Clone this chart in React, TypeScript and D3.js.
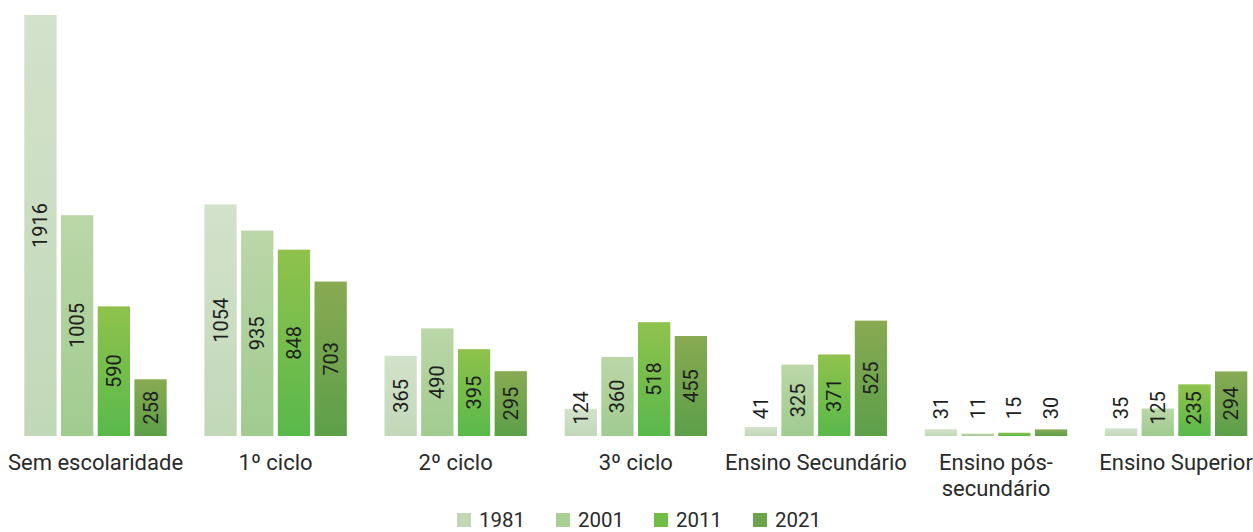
import React from "react";
import * as d3 from "d3";

const categories: string[][] = [
  ["Sem escolaridade"],
  ["1º ciclo"],
  ["2º ciclo"],
  ["3º ciclo"],
  ["Ensino Secundário"],
  ["Ensino pós-", "secundário"],
  ["Ensino Superior"],
];
const years = ["1981", "2001", "2011", "2021"];
const values1981 = [1916, 1054, 365, 124, 41, 31, 35];
const values2001 = [1005, 935, 490, 360, 325, 11, 125];
const values2011 = [590, 848, 395, 518, 371, 15, 235];
const values2021 = [258, 703, 295, 455, 525, 30, 294];
const series = [values1981, values2001, values2011, values2021];

const gradTop = ["#d3e2cb", "#bbd7a8", "#8fc24c", "#88aa52"];
const gradBottom = ["#c1d8b8", "#a0cb8f", "#59b94b", "#5c9f49"];
const legendColors = ["#c0d6b4", "#a8d095", "#6fbd48", "#6aa54e"];

const W = 1253;
const H = 532;
const FONT = "Roboto, 'Noto Sans', sans-serif";

export default function App() {
  const keys = categories.map((c) => c.join(" "));
  const x0 = d3.scaleBand<string>().domain(keys).range([24.3, 1247.3]).paddingInner(0.2093).paddingOuter(0);
  const x1 = d3.scaleBand<string>().domain(years).range([0, x0.bandwidth()]).paddingInner(0.12).paddingOuter(0);
  const y = d3.scaleLinear().domain([0, 1916]).range([436, 15]);
  const baseline = y(0);

  const legendX = [457, 556, 654, 753];

  return (
    <div style={{ position: "absolute", left: 0, top: 0, margin: 0 }}>
      <svg width={W} height={H} style={{ display: "block", background: "#fff" }} fontFamily={FONT}>
        <defs>
          {years.map((yr, i) => (
            <linearGradient key={yr} id={`g${yr}`} x1="0" y1="0" x2="0" y2="1">
              <stop offset="0%" stopColor={gradTop[i]} />
              <stop offset="100%" stopColor={gradBottom[i]} />
            </linearGradient>
          ))}
        </defs>
        {keys.map((k, ci) => (
          <g key={k} transform={`translate(${x0(k)},0)`}>
            {years.map((yr, si) => {
              const v = series[si][ci];
              const top = y(v);
              const bx = x1(yr)!;
              const bw = x1.bandwidth();
              const cy = Math.min((top + baseline) / 2, baseline - 28);
              const cx = bx + bw / 2;
              return (
                <g key={yr}>
                  <rect x={bx} y={top} width={bw} height={baseline - top} fill={`url(#g${yr})`} />
                  <text
                    transform={`translate(${cx},${cy}) rotate(-90)`}
                    textAnchor="middle"
                    dominantBaseline="central"
                    fontSize={20}
                    fill="#1e1e1e"
                  >
                    {v}
                  </text>
                </g>
              );
            })}
            {categories[ci].map((line, li) => (
              <text
                key={li}
                x={x0.bandwidth() / 2}
                y={470 + li * 26}
                textAnchor="middle"
                fontSize={22}
                fill="#2a2a2a"
              >
                {line}
              </text>
            ))}
          </g>
        ))}
        {years.map((yr, i) => (
          <g key={yr} transform={`translate(${legendX[i]},0)`}>
            <rect x={0} y={513} width={14} height={14} fill={legendColors[i]} />
            <text x={22} y={527} fontSize={20.5} fill="#2a2a2a">
              {yr}
            </text>
          </g>
        ))}
      </svg>
    </div>
  );
}
